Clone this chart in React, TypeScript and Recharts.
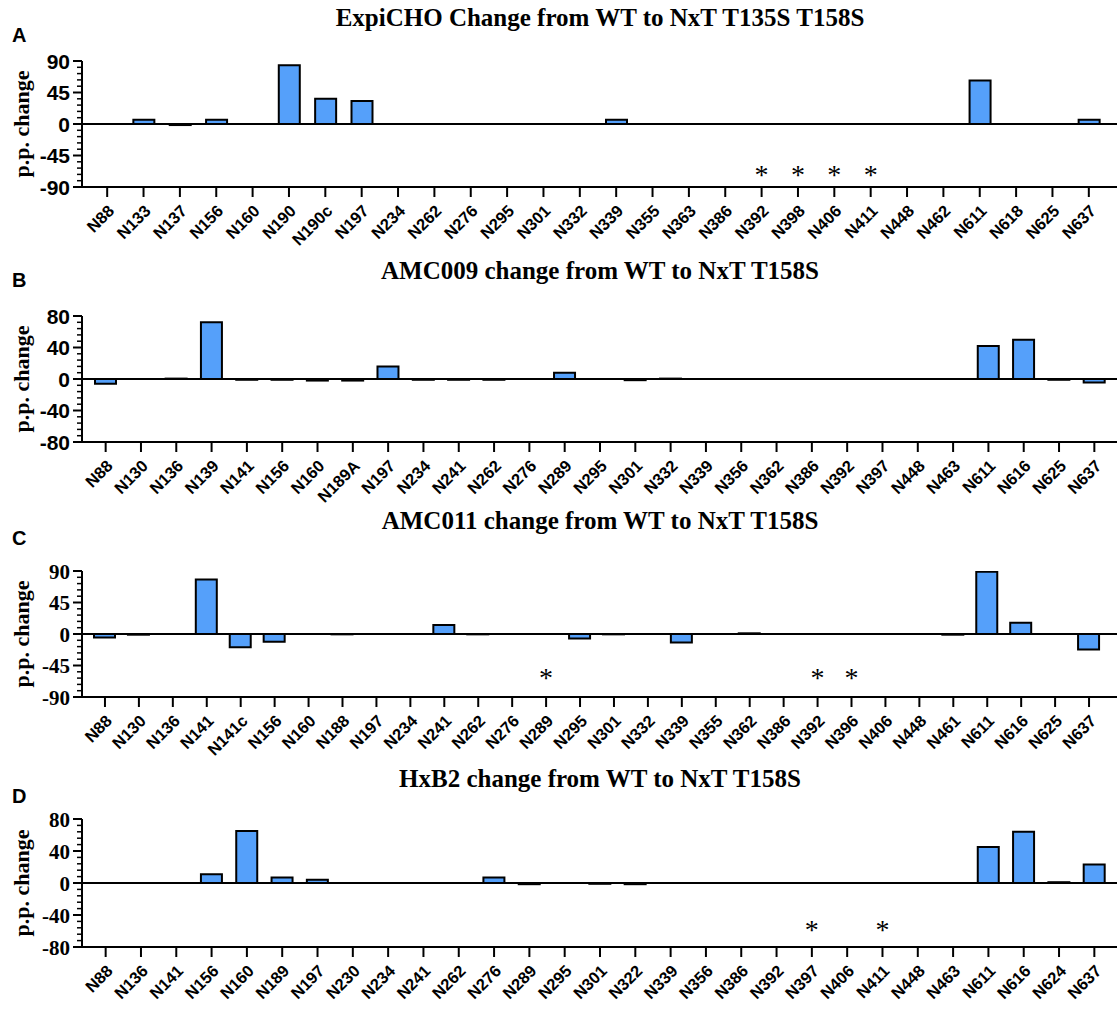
import React from "react";
import { ComposedChart, Bar, Scatter, XAxis, YAxis, ReferenceLine } from "recharts";

// ---- data ----
const sitesA = ["N88", "N133", "N137", "N156", "N160", "N190", "N190c", "N197", "N234", "N262", "N276", "N295", "N301", "N332", "N339", "N355", "N363", "N386", "N392", "N398", "N406", "N411", "N448", "N462", "N611", "N618", "N625", "N637"];
const valuesA = [0, 6, -1.5, 6, 0, 84, 36, 33, 0, 0, 0, 0, 0, 0, 6, 0, 0, 0, 0, 0, 0, 0, 0, 0, 62, 0, 0, 6];
const starsA = ["N392", "N398", "N406", "N411"];

const sitesB = ["N88", "N130", "N136", "N139", "N141", "N156", "N160", "N189A", "N197", "N234", "N241", "N262", "N276", "N289", "N295", "N301", "N332", "N339", "N356", "N362", "N386", "N392", "N397", "N448", "N463", "N611", "N616", "N625", "N637"];
const valuesB = [-6, 0, 0.5, 72, -1, -1, -2, -2, 16, -1, -1, -1, 0, 8, 0, -1.5, 0.5, 0, 0, 0, 0, 0, 0, 0, 0, 42, 50, -1, -4.5];
const starsB: string[] = [];

const sitesC = ["N88", "N130", "N136", "N141", "N141c", "N156", "N160", "N188", "N197", "N234", "N241", "N262", "N276", "N289", "N295", "N301", "N332", "N339", "N355", "N362", "N386", "N392", "N396", "N406", "N448", "N461", "N611", "N616", "N625", "N637"];
const valuesC = [-5, -1, 0, 78, -19, -11, 0, -0.5, 0, 0, 13, -0.5, 0, 0, -6.5, -0.5, 0, -12, 0, 1, 0, 0, 0, 0, 0, -1, 89, 16, 0, -22];
const starsC = ["N289", "N392", "N396"];

const sitesD = ["N88", "N136", "N141", "N156", "N160", "N189", "N197", "N230", "N234", "N241", "N262", "N276", "N289", "N295", "N301", "N322", "N339", "N356", "N386", "N392", "N397", "N406", "N411", "N448", "N463", "N611", "N616", "N624", "N637"];
const valuesD = [0, 0, 0, 11, 65, 7, 4, 0, 0, 0, 0, 7, -1.5, 0, -1, -1.5, 0, 0, 0, 0, 0, 0, 0, 0, 0, 45, 64, 1, 23];
const starsD = ["N397", "N411"];

const ticks90 = [-90, -45, 0, 45, 90];
const ticks80 = [-80, -40, 0, 40, 80];

// ---- styling ----
const BLUE = "#55A0FA";
const SANS = "'Liberation Sans', Arial, sans-serif";
const SERIF = "'Liberation Serif', 'Times New Roman', serif";
const AXIS_X = 82;
const CHART_W = 1120;
const X_AXIS_H = 70;
const TOP_PAD = 10;

function withMinor(major: number[], parts: number) {
  const out: number[] = [];
  for (let i = 0; i < major.length - 1; i++) {
    const step = (major[i + 1] - major[i]) / parts;
    for (let k = 0; k < parts; k++) out.push(major[i] + k * step);
  }
  out.push(major[major.length - 1]);
  return out;
}

const YTick = (props: any) => {
  const { y, payload, major, font } = props;
  const v = payload.value;
  const isMajor = major.includes(v);
  return (
    <g>
      <line x1={AXIS_X - (isMajor ? 9 : 5)} x2={AXIS_X} y1={y} y2={y} stroke="#000" strokeWidth={isMajor ? 2 : 1.5} />
      {isMajor && (
        <text x={AXIS_X - 12} y={y} dy="0.36em" textAnchor="end" fontFamily={font} fontWeight="bold" fontSize={21} fill="#000">
          {v}
        </text>
      )}
    </g>
  );
};

const XTick = (props: any) => {
  const { x, y, payload } = props;
  return (
    <g transform={`translate(${x + 4},${y + 9})`}>
      <text transform="rotate(-45)" textAnchor="end" dy="0.35em" fontFamily={SANS} fontWeight="bold" fontSize={16.5} fill="#000">
        {payload.value}
      </text>
    </g>
  );
};

const Star = (props: any) => {
  const { cx, cy, payload } = props;
  if (payload == null || payload.star == null) return <g />;
  return (
    <text x={cx} y={cy} dy="0.45em" textAnchor="middle" fontFamily={SERIF} fontSize={28} fill="#000">
      *
    </text>
  );
};

type PanelProps = {
  letter: string;
  title: string;
  sites: string[];
  values: number[];
  stars: string[];
  starLevel: number;
  major: number[];
  tickFont: string;
  plotTop: number;
  plotH: number;
  padL: number;
  padR: number;
  titleBase: number;
  letterBase: number;
};

function Panel(p: PanelProps) {
  const rows = p.sites.map((site, i) => ({
    site,
    value: p.values[i],
    star: p.stars.includes(site) ? p.starLevel : null,
  }));
  const max = p.major[p.major.length - 1];
  const chartTop = p.plotTop - TOP_PAD;
  const chartH = TOP_PAD + p.plotH + X_AXIS_H;
  return (
    <>
      <div style={{ position: "absolute", left: 12, top: p.letterBase - 17, fontFamily: SANS, fontWeight: "bold", fontSize: 20, lineHeight: "20px" }}>
        {p.letter}
      </div>
      <div style={{ position: "absolute", left: 100, width: 1000, top: p.titleBase - 21, textAlign: "center", fontFamily: SERIF, fontWeight: "bold", fontSize: 25, lineHeight: "25px", whiteSpace: "nowrap" }}>
        {p.title}
      </div>
      <div style={{ position: "absolute", left: 22 - 100, top: p.plotTop + p.plotH / 2 - 11, width: 200, textAlign: "center", transform: "rotate(-90deg)", fontFamily: SERIF, fontWeight: "bold", fontSize: 22, lineHeight: "22px", whiteSpace: "nowrap" }}>
        p.p. change
      </div>
      <div style={{ position: "absolute", left: 0, top: chartTop }}>
        <ComposedChart width={CHART_W} height={chartH} data={rows} margin={{ top: TOP_PAD, right: CHART_W - 1117, left: 0, bottom: 0 }}>
          <XAxis
            dataKey="site"
            interval={0}
            height={X_AXIS_H}
            tickSize={10}
            tickLine={{ stroke: "#000", strokeWidth: 2 }}
            axisLine={{ stroke: "#000", strokeWidth: 2 }}
            padding={{ left: p.padL, right: p.padR }}
            tick={<XTick />}
          />
          <YAxis
            width={AXIS_X}
            domain={[-max, max]}
            ticks={withMinor(p.major, 5)}
            interval={0}
            allowDataOverflow
            tickLine={false}
            axisLine={{ stroke: "#000", strokeWidth: 2 }}
            tick={<YTick major={p.major} font={p.tickFont} />}
          />
          <Bar dataKey="value" fill={BLUE} stroke="#000" strokeWidth={2} barSize={21} isAnimationActive={false} />
          <ReferenceLine y={0} stroke="#000" strokeWidth={2} />
          <Scatter dataKey="star" shape={<Star />} isAnimationActive={false} />
        </ComposedChart>
      </div>
    </>
  );
}

export default function App() {
  return (
    <div style={{ position: "absolute", left: 0, top: 0, width: 1120, height: 1015, background: "#fff", overflow: "hidden" }}>
      <Panel letter="A" title="ExpiCHO Change from WT to NxT T135S T158S" sites={sitesA} values={valuesA} stars={starsA} starLevel={-67} major={ticks90} tickFont={SANS} plotTop={61} plotH={126} padL={7} padR={10} titleBase={26} letterBase={42} />
      <Panel letter="B" title="AMC009 change from WT to NxT T158S" sites={sitesB} values={valuesB} stars={starsB} starLevel={-60} major={ticks80} tickFont={SANS} plotTop={316} plotH={126} padL={6} padR={5} titleBase={279} letterBase={287} />
      <Panel letter="C" title="AMC011 change from WT to NxT T158S" sites={sitesC} values={valuesC} stars={starsC} starLevel={-57} major={ticks90} tickFont={SERIF} plotTop={571} plotH={126} padL={6} padR={11} titleBase={529} letterBase={545} />
      <Panel letter="D" title="HxB2 change from WT to NxT T158S" sites={sitesD} values={valuesD} stars={starsD} starLevel={-54} major={ticks80} tickFont={SERIF} plotTop={819} plotH={128} padL={6} padR={5} titleBase={787} letterBase={803} />
    </div>
  );
}
